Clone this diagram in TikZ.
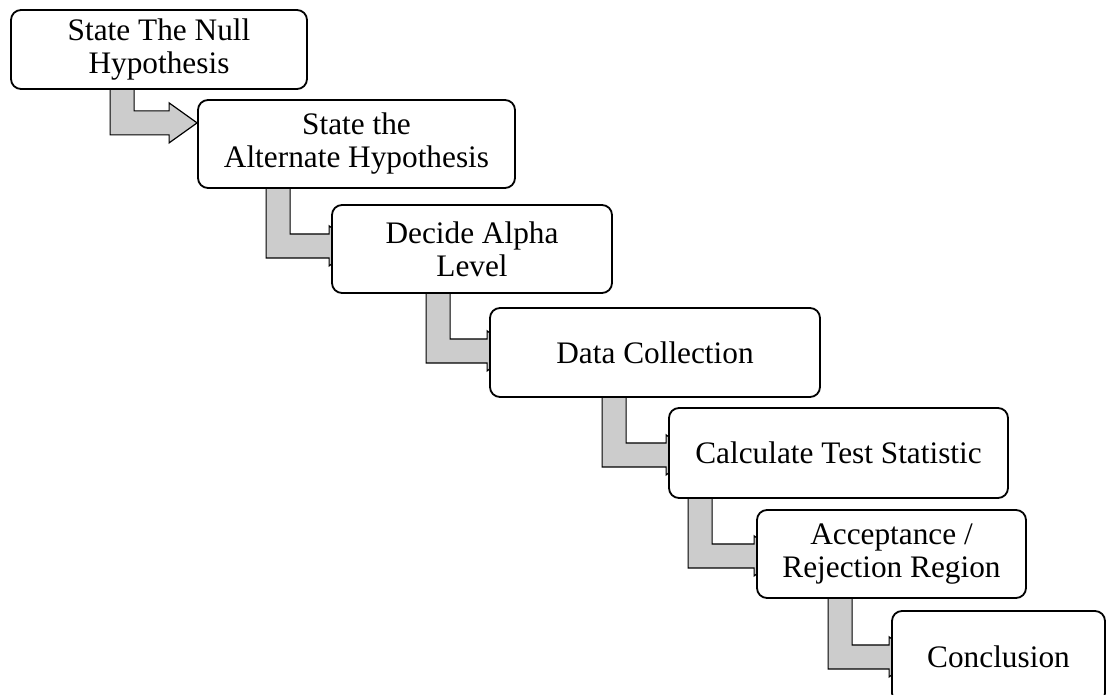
\documentclass[tikz,border=0pt]{standalone}
\usepackage{fontspec}
\setmainfont{Liberation Serif}
\usetikzlibrary{calc,backgrounds}
\begin{document}
\begin{tikzpicture}
[x=1pt,y=-1pt,
  boxdecorate/.style={shape=rectangle,rounded corners=10pt,draw,line width=1.8pt,%
    fill=white,align=center,inner sep=0pt,font=\fontsize{31.3}{33}\selectfont},%
  arrowdecorate/.style={draw,line width=1.2pt,fill=gray!40,line join=miter}]
\useasboundingbox (0,0) rectangle (1108,695);
\clip (0,0) rectangle (1108,695);
%% boxes of the steps
\foreach \nodename/\x/\y/\w/\h/\boxtext in {
  null/159/49.5/296/79/{State The Null\\Hypothesis},
  alternate/356.5/144/317/88/{State the\\Alternate Hypothesis},
  alpha/472/249/280/88/{Decide Alpha\\Level},
  data/655/352.5/330/89/{Data Collection},
  statistic/838.5/453/339/90/{Calculate Test Statistic},
  region/891.5/554/269/88/{Acceptance /\\Rejection Region},
  conclusion/998.5/657/213/92/{Conclusion}} {
  \node (\nodename) at (\x,\y) [boxdecorate,minimum width=\w pt,minimum height=\h pt] {\boxtext};
}
%% bent arrows between the steps
\begin{pgfonlayer}{background}
\foreach \startnode/\endnode/\dx/\dy/\hb in {null/alternate/100/21/-28,
  alternate/alpha/69/45/-2, alpha/data/95/45/-2, data/statistic/113/45/-2,
  statistic/region/20/45/-2, region/conclusion/72/46/-2} {
  \coordinate (head) at ($(\endnode.west)+(\hb,0)$);
  \draw[arrowdecorate] ($(\startnode.south west)+(\dx,-4)$)
    -- ++(0,\dy+28) coordinate (corner) -- (head |- corner)
    -- ++(0,8) -- ++(28,-20) -- ++(-28,-20) -- ++(0,8)
    -- ($(\startnode.south west)+(\dx+24,\dy)$)
    -- ($(\startnode.south west)+(\dx+24,-4)$) -- cycle;
}
\end{pgfonlayer}
\end{tikzpicture}
\end{document}
